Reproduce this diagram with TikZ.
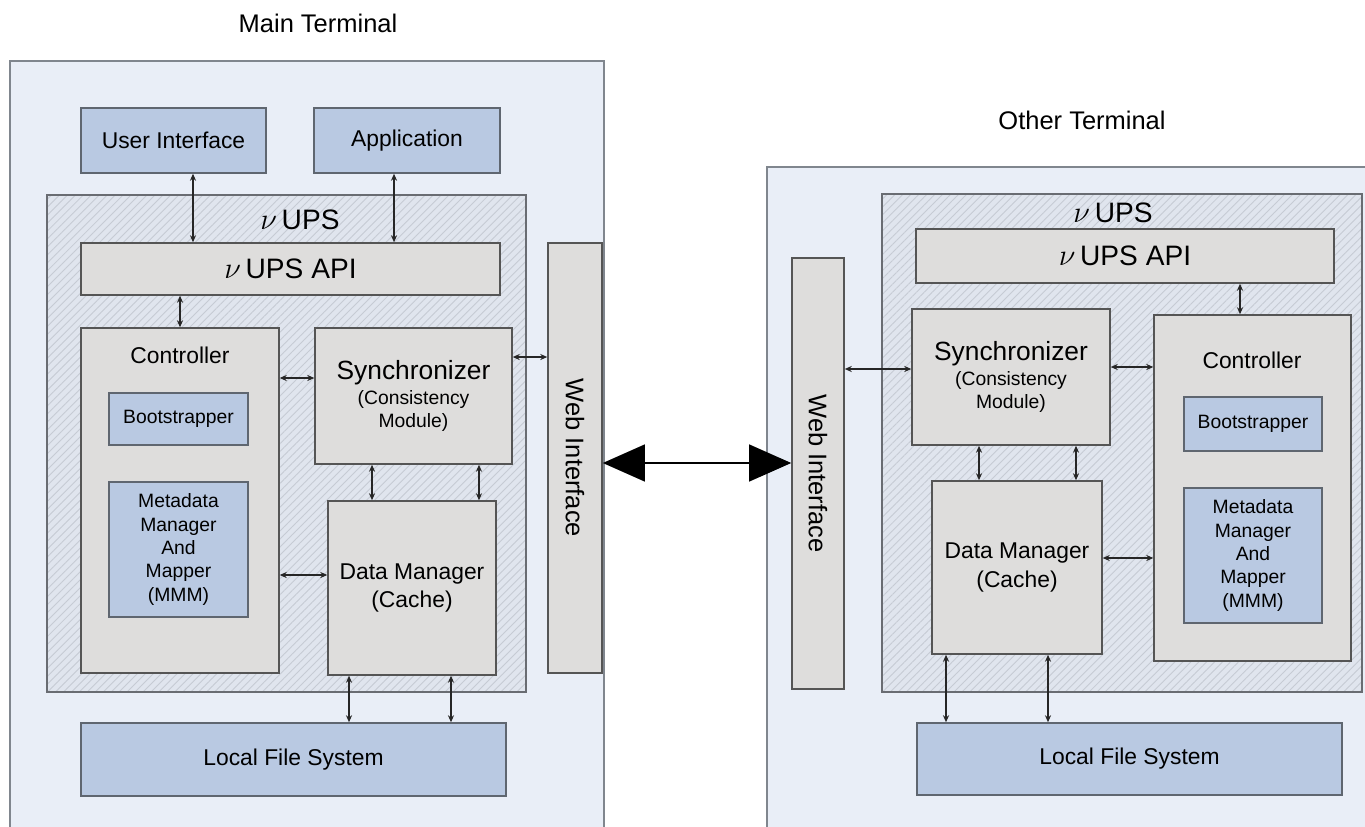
\documentclass[tikz,border=0pt]{standalone}
\usepackage{fontspec}
\setmainfont{Liberation Sans}
\usetikzlibrary{arrows.meta,patterns.meta}

\definecolor{termfill}{RGB}{233,238,247}
\definecolor{termdraw}{RGB}{128,134,142}
\definecolor{bluefill}{RGB}{185,201,226}
\definecolor{bluedraw}{RGB}{95,102,112}
\definecolor{greyfill}{RGB}{222,221,220}
\definecolor{greydraw}{RGB}{85,85,85}
\definecolor{hatchfill}{RGB}{224,229,238}
\definecolor{hatchline}{RGB}{198,203,212}
\definecolor{hatchdraw}{RGB}{105,108,114}

\newcommand{\txtbig}{\fontsize{15}{17}\selectfont}
\newcommand{\txtmid}{\fontsize{13}{16}\selectfont}
\newcommand{\txtsml}{\fontsize{11}{13.3}\selectfont}

\tikzset{
  termbox/.style={draw=termdraw, line width=1pt, fill=termfill, inner sep=0pt},
  hatchbox/.style={draw=hatchdraw, line width=0.9pt, preaction={fill=hatchfill},
    pattern={Lines[angle=45,distance=3.2pt,line width=0.5pt]}, pattern color=hatchline, inner sep=0pt},
  bluebox/.style={draw=bluedraw, line width=0.9pt, fill=bluefill, inner sep=0pt, align=center, font=\txtmid},
  greybox/.style={draw=greydraw, line width=0.9pt, fill=greyfill, inner sep=0pt, align=center, font=\txtmid},
  link/.style={{Stealth[length=4pt,width=3.5pt]}-{Stealth[length=4pt,width=3.5pt]}, line width=0.7pt, black!85},
  biglink/.style={{Triangle[length=24pt,width=21pt]}-{Triangle[length=24pt,width=21pt]}, line width=1.2pt},
}

\begin{document}
\begin{tikzpicture}[x=0.02cm, y=-0.02cm]
	\useasboundingbox (0,0) rectangle (1365,827);
	\clip (0,0) rectangle (1365,827);

	% main terminal
	\node (MainLbl) [font=\fontsize{14.5}{17}\selectfont] at (318,23) {Main Terminal};
	\node (LT) [termbox, minimum width=11.88cm, minimum height=15.78cm] at (307,455.5) {};

	\node (UI) [bluebox, minimum width=3.70cm, minimum height=1.30cm] at (173.5,140.5) {User Interface};
	\node (App) [bluebox, minimum width=3.72cm, minimum height=1.30cm] at (407,140.5) {Application};

	\node (UPS) [hatchbox, minimum width=9.58cm, minimum height=9.94cm] at (286.5,443.5) {};
	\node (UPSLbl) [font=\fontsize{16}{18}\selectfont] at (300,220) {$\nu$\,UPS};
	\node (API) [greybox, minimum width=8.38cm, minimum height=1.04cm, font=\fontsize{16}{18}\selectfont] at (290.5,269) {$\nu$\,UPS API};

	\node (Ctrl) [greybox, minimum width=3.96cm, minimum height=6.90cm] at (180,500.5) {};
	\node (CtrlLbl) [font=\txtmid] at (180,355) {Controller};
	\node (Boot) [bluebox, minimum width=2.78cm, minimum height=1.04cm, font=\txtsml] at (178.5,419) {Bootstrapper};
	\node (MMM) [bluebox, minimum width=2.78cm, minimum height=2.70cm, font=\txtsml] at (178.5,549.5) {Metadata\\Manager\\And\\Mapper\\(MMM)};

	\node (Sync) [greybox, minimum width=3.94cm, minimum height=2.72cm, font=\txtsml] at (413.5,396) {{\txtbig Synchronizer}\\[1pt](Consistency\\Module)};
	\node (DM) [greybox, minimum width=3.36cm, minimum height=3.48cm] at (412,588) {Data Manager\\(Cache)};

	\node (WebI) [greybox, minimum width=1.08cm, minimum height=8.60cm, font=\fontsize{14.5}{17}\selectfont] at (575,458) {\rotatebox{-90}{Web Interface}};
	\node (LFS) [bluebox, minimum width=8.50cm, minimum height=1.46cm] at (293.5,759.5) {Local File System};

	\draw [link] ([xshift=0.39cm]UI.south) -- ([xshift=0.39cm]UI.south |- API.north);
	\draw [link] ([xshift=-0.26cm]App.south) -- ([xshift=-0.26cm]App.south |- API.north);
	\draw [link] (API.south -| Ctrl.north) -- (Ctrl.north);
	\draw [link] ([yshift=0.36cm]Sync.west -| Ctrl.east) -- ([yshift=0.36cm]Sync.west);
	\draw [link] ([yshift=0.26cm]DM.west -| Ctrl.east) -- ([yshift=0.26cm]DM.west);
	\draw [link] ([yshift=0.78cm]Sync.east) -- ([yshift=0.78cm]Sync.east -| WebI.west);
	\draw [link] ([xshift=-0.8cm]DM.north |- Sync.south) -- ([xshift=-0.8cm]DM.north);
	\draw [link] ([xshift=1.34cm]DM.north |- Sync.south) -- ([xshift=1.34cm]DM.north);
	\draw [link] ([xshift=-1.26cm]DM.south) -- ([xshift=-1.26cm]DM.south |- LFS.north);
	\draw [link] ([xshift=0.78cm]DM.south) -- ([xshift=0.78cm]DM.south |- LFS.north);

	% other terminal
	\node (OtherLbl) [font=\fontsize{14.5}{17}\selectfont] at (1082,120) {Other Terminal};
	\node (RT) [termbox, minimum width=12.66cm, minimum height=13.66cm] at (1083.5,508.5) {};

	\node (WebI2) [greybox, minimum width=1.04cm, minimum height=8.62cm, font=\fontsize{14.5}{17}\selectfont] at (818,473.5) {\rotatebox{-90}{Web Interface}};

	\node (UPS2) [hatchbox, minimum width=9.60cm, minimum height=9.96cm] at (1122,443) {};
	\node (UPSLbl2) [font=\fontsize{16}{18}\selectfont] at (1113,213) {$\nu$\,UPS};
	\node (API2) [greybox, minimum width=8.36cm, minimum height=1.08cm, font=\fontsize{16}{18}\selectfont] at (1125,256) {$\nu$\,UPS API};

	\node (Sync2) [greybox, minimum width=3.96cm, minimum height=2.72cm, font=\txtsml] at (1011,377) {{\txtbig Synchronizer}\\[1pt](Consistency\\Module)};
	\node (DM2) [greybox, minimum width=3.40cm, minimum height=3.46cm] at (1017,567.5) {Data Manager\\(Cache)};

	\node (Ctrl2) [greybox, minimum width=3.94cm, minimum height=6.92cm] at (1252.5,488) {};
	\node (CtrlLbl2) [font=\txtmid] at (1252,360) {Controller};
	\node (Boot2) [bluebox, minimum width=2.76cm, minimum height=1.08cm, font=\txtsml] at (1253,424) {Bootstrapper};
	\node (MMM2) [bluebox, minimum width=2.76cm, minimum height=2.70cm, font=\txtsml] at (1253,555.5) {Metadata\\Manager\\And\\Mapper\\(MMM)};

	\node (LFS2) [bluebox, minimum width=8.50cm, minimum height=1.44cm] at (1129.5,759) {Local File System};

	\draw [link] ([xshift=-0.25cm]Ctrl2.north |- API2.south) -- ([xshift=-0.25cm]Ctrl2.north);
	\draw [link] ([yshift=0.16cm]Sync2.west -| WebI2.east) -- ([yshift=0.16cm]Sync2.west);
	\draw [link] ([yshift=0.2cm]Sync2.east) -- ([yshift=0.2cm]Sync2.east -| Ctrl2.west);
	\draw [link] ([xshift=-0.76cm]DM2.north |- Sync2.south) -- ([xshift=-0.76cm]DM2.north);
	\draw [link] ([xshift=1.18cm]DM2.north |- Sync2.south) -- ([xshift=1.18cm]DM2.north);
	\draw [link] ([yshift=0.19cm]DM2.east) -- ([yshift=0.19cm]DM2.east -| Ctrl2.west);
	\draw [link] ([xshift=-1.42cm]DM2.south) -- ([xshift=-1.42cm]DM2.south |- LFS2.north);
	\draw [link] ([xshift=0.62cm]DM2.south) -- ([xshift=0.62cm]DM2.south |- LFS2.north);

	% between the terminals
	\draw [biglink] ([yshift=-0.1cm]WebI.east) -- ([yshift=-0.1cm]WebI.east -| WebI2.west);

\end{tikzpicture}
\end{document}
